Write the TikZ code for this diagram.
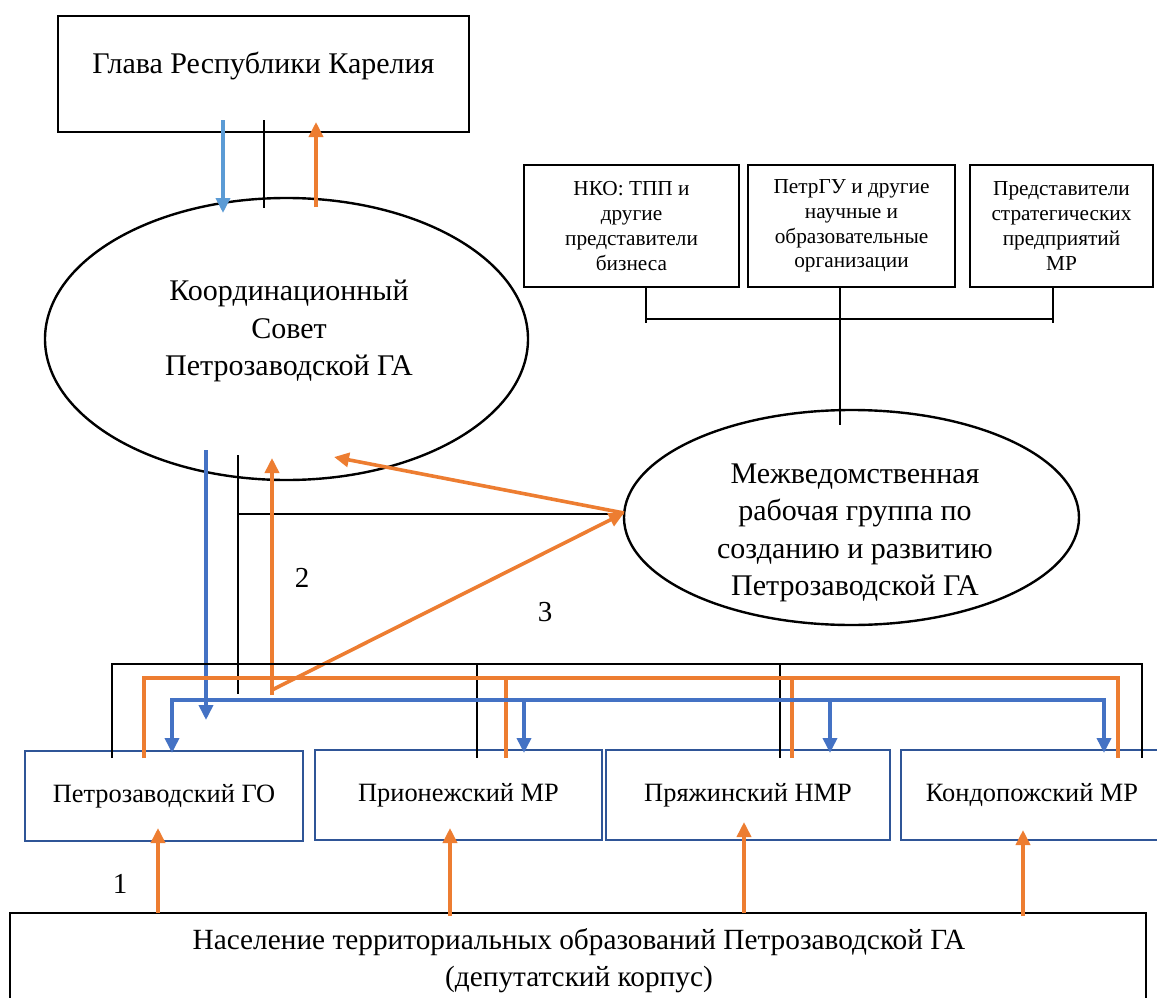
\documentclass[tikz,border=0pt]{standalone}
\usepackage{fontspec}
\setmainfont{Liberation Serif}
\usetikzlibrary{arrows.meta,shapes.geometric}
\definecolor{cblue}{HTML}{4472C4}
\definecolor{lblue}{HTML}{5B9BD5}
\definecolor{corange}{HTML}{ED7D31}
\definecolor{bbox}{HTML}{2F5597}
\begin{document}
\begin{tikzpicture}[x=1pt,y=-1pt,
  blkbox/.style={draw=black, line width=2.6pt, inner sep=0pt, align=center},
  unitbox/.style={draw=bbox, line width=2.2pt, inner sep=0pt, minimum height=90pt, align=center, font=\fontsize{26.4}{32}\selectfont},
  smallbox/.style={blkbox, minimum height=122pt, font=\fontsize{21.3}{24.8}\selectfont},
  oval/.style={draw=black, line width=2.4pt, ellipse, inner sep=0pt},
  bigtext/.style={align=center, inner sep=0pt, font=\fontsize{30}{37.5}\selectfont},
  thinline/.style={draw=black, line width=1.2pt},
  tip/.style={-{Triangle[length=15pt,width=14pt]}},
  oline/.style={draw=corange, line width=3.6pt},
  bline/.style={draw=cblue, line width=3.6pt},
  numlabel/.style={inner sep=0pt, font=\fontsize{29}{34}\selectfont}
]
\useasboundingbox (0,0) rectangle (1157,998);
\fill[white] (0,0) rectangle (1157,998);

% main nodes
\node[blkbox, minimum width=411pt, minimum height=116pt] (glava) at (263.5,74) {};
\node[bigtext] (glavat) at (263.5,66) {Глава Республики Карелия};

\node[oval, minimum width=483pt, minimum height=282pt] (ks) at (286.5,339) {};
\node[bigtext] (kst) at (289,331) {Координационный\\Совет\\Петрозаводской ГА};

\node[smallbox, minimum width=215pt] (nko) at (631.5,226) {НКО: ТПП и\\другие\\представители\\бизнеса};
\node[smallbox, minimum width=207pt] (pgu) at (851.5,226) {ПетрГУ и другие\\научные и\\образовательные\\организации};
\node[smallbox, minimum width=183pt] (strat) at (1061.5,226) {Представители\\стратегических\\предприятий\\МР};

\node[oval, minimum width=455pt, minimum height=215pt] (mrg) at (851.5,517.5) {};
\node[bigtext] (mrgt) at (855,533) {Межведомственная\\рабочая группа по\\созданию и развитию\\Петрозаводской ГА};

\node[unitbox, minimum width=278pt] (pgo) at (164,796) {Петрозаводский ГО};
\node[unitbox, minimum width=287pt] (prio) at (458.5,795) {Прионежский МР};
\node[unitbox, minimum width=284pt] (prya) at (748,795) {Пряжинский НМР};
\node[unitbox, minimum width=262pt] (kond) at (1032,795) {Кондопожский МР};

\node[blkbox, minimum width=1136pt, minimum height=110pt] (nas) at (578,968) {};
\node[bigtext, font=\fontsize{29.3}{37}\selectfont] (nast) at (579,961) {Население территориальных образований Петрозаводской ГА\\(депутатский корпус)};

\node[numlabel] (n1) at (120,884) {1};
\node[numlabel] (n2) at (302,578) {2};
\node[numlabel] (n3) at (545,612) {3};

% coordinates for connector ends
\coordinate (g1) at (223,120); \coordinate (k1) at (223,213);
\coordinate (g2) at (264,120); \coordinate (k2) at (264,208);
\coordinate (k3) at (316,207); \coordinate (g3) at (316,122);

\coordinate (nkoS) at (646,287); \coordinate (nkoB) at (646,323);
\coordinate (stratS) at (1053,287); \coordinate (stratB) at (1053,323);
\coordinate (h1) at (646,319); \coordinate (h2) at (1053,319);
\coordinate (pguS) at (840,287); \coordinate (mrgT) at (840,425);

\coordinate (ksB1) at (206,450); \coordinate (busB1) at (206,720);
\coordinate (ksK) at (238,455); \coordinate (busK) at (238,694);
\coordinate (hK) at (238,514); \coordinate (mrgL) at (624,514);
\coordinate (busO) at (272,695); \coordinate (ksO) at (272,458);
\coordinate (mrgA) at (624,513); \coordinate (ksA) at (334,457);
\coordinate (busD) at (272,690);

% top connectors
\draw[draw=lblue, line width=3.6pt, tip] (g1) -- (k1);
\draw[thinline] (g2) -- (k2);
\draw[oline, tip] (k3) -- (g3);

% upper right tree
\draw[thinline] (nkoS) -- (nkoB);
\draw[thinline] (stratS) -- (stratB);
\draw[thinline] (h1) -- (h2);
\draw[thinline] (pguS) -- (mrgT);

% middle
\draw[thinline] (ksK) -- (busK);
\draw[thinline] (hK) -- (mrgL);
\draw[bline, tip] (ksB1) -- (busB1);
\draw[oline, tip] (busO) -- (ksO);
\draw[oline, tip] (mrgA) -- (ksA);
\draw[oline, tip] (busD) -- (mrgA);

% black bus
\draw[thinline] (112,758) -- (112,664) -- (1142,664) -- (1142,758);
\draw[thinline] (477,664) -- (477,758);
\draw[thinline] (780,664) -- (780,758);

% orange bus
\draw[oline] (144,758) -- (144,678) -- (1118,678) -- (1118,758);
\draw[oline] (506,678) -- (506,758);
\draw[oline] (792,678) -- (792,758);

% blue bus
\draw[bline] (172,700) -- (1104,700);
\draw[bline, tip] (172,698.2) -- (172,753);
\draw[bline, tip] (524,700) -- (524,753);
\draw[bline, tip] (830,700) -- (830,753);
\draw[bline, tip] (1104,698.2) -- (1104,753);

% population arrows
\draw[oline, tip] (158,913) -- (158,828);
\draw[oline, tip] (450,916) -- (450,828);
\draw[oline, tip] (744,913) -- (744,822);
\draw[oline, tip] (1023,916) -- (1023,830);
\end{tikzpicture}
\end{document}
